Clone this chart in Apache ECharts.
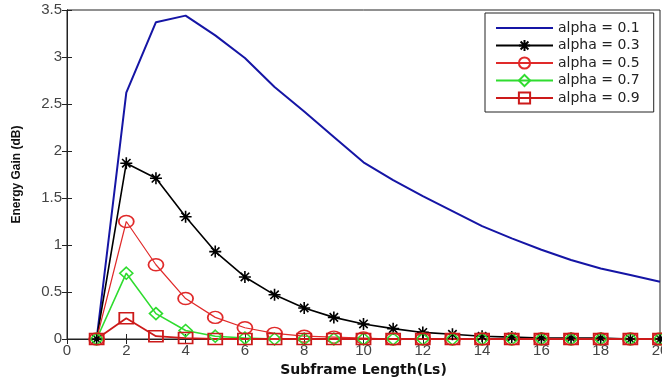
<!DOCTYPE html>
<html>
<head>
<meta charset="utf-8">
<script src="https://cdn.jsdelivr.net/npm/echarts@6/dist/echarts.min.js"></script>
<style>
  html, body { margin: 0; padding: 0; background: #fff; }
  #chart { width: 662px; height: 378px; }
</style>
</head>
<body>
<div id="chart"></div>
<script>
// subframe length Ls
const xs = [1, 2, 3, 4, 5, 6, 7, 8, 9, 10, 11, 12, 13, 14, 15, 16, 17, 18, 19, 20];
const alpha01 = [0, 2.62, 3.37, 3.44, 3.23, 2.99, 2.68, 2.42, 2.15, 1.88, 1.69, 1.52, 1.36, 1.2, 1.07, 0.95, 0.84, 0.75, 0.68, 0.61];
const alpha03 = [0, 1.87, 1.71, 1.3, 0.93, 0.66, 0.47, 0.33, 0.23, 0.16, 0.11, 0.07, 0.05, 0.03, 0.02, 0.01, 0.01, 0.01, 0, 0];
const alpha05 = [0, 1.25, 0.79, 0.43, 0.23, 0.12, 0.06, 0.03, 0.02, 0.01, 0, 0, 0, 0, 0, 0, 0, 0, 0, 0];
const alpha07 = [0, 0.7, 0.27, 0.09, 0.03, 0.01, 0, 0, 0, 0, 0, 0, 0, 0, 0, 0, 0, 0, 0, 0];
const alpha09 = [0, 0.22, 0.03, 0.01, 0, 0, 0, 0, 0, 0, 0, 0, 0, 0, 0, 0, 0, 0, 0, 0];
const seriesNames = ['alpha = 0.1', 'alpha = 0.3', 'alpha = 0.5', 'alpha = 0.7', 'alpha = 0.9'];

const pairs = vals => xs.map((x, i) => [x, vals[i]]);

// asterisk made of strokes
const STAR = 'path://M0,-10L0,10M-10,0L10,0M-7,-7L7,7M-7,7L7,-7';

const chart = echarts.init(document.getElementById('chart'), null, { renderer: 'canvas' });

const tickFont = { color: '#444', fontFamily: 'Arial, "Liberation Sans"', fontSize: 15 };

function mkLine(name, vals, color, width, symbol, size) {
  return {
    name: name,
    type: 'line',
    data: pairs(vals),
    symbol: symbol || 'none',
    symbolSize: size || 0,
    showSymbol: !!symbol,
    lineStyle: { color: color, width: width },
    itemStyle: symbol
      ? { color: 'rgba(0,0,0,0)', borderColor: color, borderWidth: 1.6 }
      : { color: color },
    emphasis: { disabled: true }
  };
}

const option = {
  animation: false,
  backgroundColor: '#fff',
  grid: {
    left: 67, right: 2, top: 10, bottom: 39,
    outerBoundsMode: 'none',
    show: true, borderColor: '#222', borderWidth: 1
  },
  legend: {
    orient: 'vertical',
    left: 485,
    top: 13,
    padding: [8, 14, 7, 10],
    itemGap: 3.5,
    itemWidth: 57,
    itemHeight: 14,
    backgroundColor: '#fff',
    borderColor: '#222',
    borderWidth: 1,
    borderRadius: 0,
    textStyle: { fontFamily: '"DejaVu Sans"', fontSize: 14, color: '#222' },
    data: [
      { name: seriesNames[0], itemStyle: { opacity: 0 } },
      seriesNames[1], seriesNames[2], seriesNames[3], seriesNames[4]
    ]
  },
  xAxis: [{
    type: 'value', min: 0, max: 20, interval: 2,
    name: 'Subframe Length(Ls)', nameLocation: 'middle', nameGap: 18,
    nameTextStyle: { fontFamily: '"DejaVu Sans"', fontWeight: 'bold', fontSize: 14, color: '#111' },
    axisLine: { show: true, lineStyle: { color: '#222' } },
    axisTick: { inside: true, length: 5, lineStyle: { color: '#222' } },
    axisLabel: Object.assign({ margin: 4 }, tickFont),
    splitLine: { show: false }
  }, {
    type: 'value', min: 0, max: 20, interval: 2, position: 'top',
    axisLine: { show: true, lineStyle: { color: '#222' } },
    axisTick: { inside: true, length: 5, lineStyle: { color: '#222' } },
    axisLabel: { show: false },
    splitLine: { show: false }
  }],
  yAxis: [{
    type: 'value', min: 0, max: 3.5, interval: 0.5,
    name: 'Energy Gain (dB)', nameLocation: 'middle', nameGap: 44, nameRotate: 90,
    nameTextStyle: { fontFamily: 'Arial, "Liberation Sans"', fontWeight: 'bold', fontSize: 12, color: '#111' },
    axisLine: { show: true, lineStyle: { color: '#222' } },
    axisTick: { inside: true, length: 5, lineStyle: { color: '#222' } },
    axisLabel: Object.assign({ margin: 5 }, tickFont),
    splitLine: { show: false }
  }, {
    type: 'value', min: 0, max: 3.5, interval: 0.5, position: 'right',
    axisLine: { show: true, lineStyle: { color: '#222' } },
    axisTick: { inside: true, length: 5, lineStyle: { color: '#222' } },
    axisLabel: { show: false },
    splitLine: { show: false }
  }],
  series: [
    mkLine(seriesNames[0], alpha01, '#1515a5', 2),
    mkLine(seriesNames[1], alpha03, '#000000', 1.6, STAR, 12),
    mkLine(seriesNames[2], alpha05, '#e02a2a', 1.2, 'circle', [15, 12]),
    mkLine(seriesNames[3], alpha07, '#2fdc2f', 1.6, 'diamond', [13, 12]),
    mkLine(seriesNames[4], alpha09, '#cc1a1a', 1.8, 'rect', [14, 11])
  ]
};

chart.setOption(option);
</script>
</body>
</html>
